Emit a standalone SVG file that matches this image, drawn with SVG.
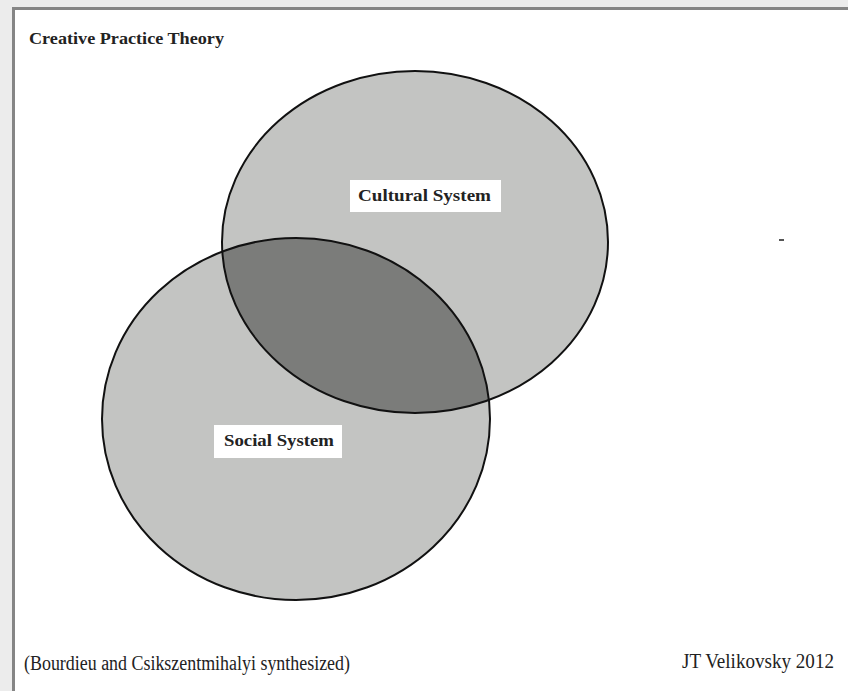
<svg xmlns="http://www.w3.org/2000/svg" width="848" height="691" viewBox="0 0 848 691">
  <style>
    .lbl { font-family: "Liberation Serif", "DejaVu Serif", serif; font-weight: bold; fill: #222; }
    .foot { font-family: "Liberation Serif", "DejaVu Serif", serif; fill: #222; }
    .set { fill: #c3c4c2; stroke: none; }
    .edge { fill: none; stroke: #111; stroke-width: 2; }
    .box { fill: #ffffff; }
  </style>
  <defs>
    <clipPath id="clipCultural">
      <ellipse cx="415" cy="242" rx="193" ry="171"/>
    </clipPath>
  </defs>
  <rect x="0" y="0" width="848" height="691" fill="#ececec"/>
  <rect x="13.5" y="8.5" width="850" height="700" fill="#ffffff" stroke="#858585" stroke-width="3"/>
  <text class="lbl" x="29" y="44" font-size="16.5" textLength="195" lengthAdjust="spacingAndGlyphs">Creative Practice Theory</text>

  <g id="cultural">
    <ellipse class="set" cx="415" cy="242" rx="193" ry="171"/>
  </g>
  <g id="social">
    <ellipse class="set" cx="296" cy="419" rx="194" ry="181"/>
  </g>
  <g id="overlap">
    <ellipse cx="296" cy="419" rx="194" ry="181" fill="#7b7c7a" clip-path="url(#clipCultural)"/>
  </g>
  <g id="outlines">
    <ellipse class="edge" cx="415" cy="242" rx="193" ry="171"/>
    <ellipse class="edge" cx="296" cy="419" rx="194" ry="181"/>
  </g>

  <g id="cultural-label">
    <rect class="box" x="350" y="180" width="151" height="32"/>
    <text class="lbl" x="358" y="201" font-size="17" textLength="133" lengthAdjust="spacingAndGlyphs">Cultural  System</text>
  </g>
  <g id="social-label">
    <rect class="box" x="214" y="425" width="128" height="33"/>
    <text class="lbl" x="224" y="446" font-size="17" textLength="110" lengthAdjust="spacingAndGlyphs">Social System</text>
  </g>

  <rect x="779" y="239" width="5" height="2" fill="#555"/>

  <text class="foot" x="24" y="670" font-size="20" textLength="326" lengthAdjust="spacingAndGlyphs">(Bourdieu and Csikszentmihalyi synthesized)</text>
  <text class="foot" x="682" y="668" font-size="20" textLength="152" lengthAdjust="spacingAndGlyphs">JT Velikovsky 2012</text>
</svg>
